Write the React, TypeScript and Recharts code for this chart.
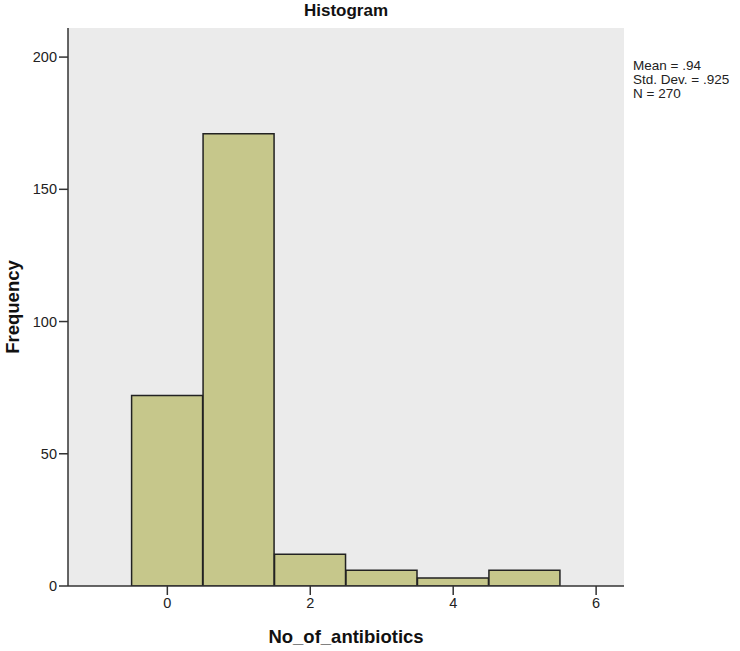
import React from 'react';
import { ComposedChart, Bar, XAxis, YAxis, CartesianGrid } from 'recharts';

const bins = [0, 1, 2, 3, 4, 5];
const counts = [72, 171, 12, 6, 3, 6];
const xTicks = [0, 2, 4, 6];
const yTicks = [0, 50, 100, 150, 200];
const statsLines = ['Mean = .94', 'Std. Dev. = .925', 'N = 270'];

const data = bins.map((b, i) => ({ bin: b, count: counts[i] }));

const FONT = '"Liberation Sans", Arial, sans-serif';

export default function App() {
  return (
    <div style={{ position: 'absolute', left: 0, top: 0, width: 740, height: 651, background: '#fff', fontFamily: FONT }}>
      <ComposedChart
        width={740}
        height={651}
        data={data}
        margin={{ top: 28, right: 116, bottom: 0, left: 0 }}
        barCategoryGap={0}
        barGap={0}
      >
        <CartesianGrid fill="#EBEBEB" horizontal={false} vertical={false} />
        <XAxis
          xAxisId="b"
          type="number"
          dataKey="bin"
          domain={[-1.39, 6.39]}
          ticks={xTicks}
          allowDataOverflow
          height={65}
          stroke="#333"
          strokeWidth={1.5}
          tickSize={9}
          tickMargin={3}
          tick={{ fill: '#222', fontSize: 14.5, fontFamily: FONT }}
          tickLine={{ stroke: '#333', strokeWidth: 1.5 }}
          label={{ value: 'No_of_antibiotics', position: 'insideBottom', offset: 8, style: { fontWeight: 'bold', fontSize: 18.5, fill: '#111', fontFamily: FONT } }}
        />
        <XAxis xAxisId="t" orientation="top" type="number" domain={[0, 1]} tick={false} tickLine={false} stroke="#333" strokeWidth={1.5} height={0} />
        <YAxis
          yAxisId="l"
          type="number"
          domain={[0, 211]}
          ticks={yTicks}
          allowDataOverflow
          width={68}
          stroke="#333"
          strokeWidth={1.5}
          tickSize={9}
          tickMargin={2}
          tick={{ fill: '#222', fontSize: 14.5, fontFamily: FONT }}
          tickLine={{ stroke: '#333', strokeWidth: 1.5 }}
          label={{ value: 'Frequency', angle: -90, position: 'insideLeft', offset: 12, style: { textAnchor: 'middle', fontWeight: 'bold', fontSize: 18.5, fill: '#111', fontFamily: FONT } }}
        />
        <YAxis yAxisId="r" orientation="right" type="number" domain={[0, 1]} tick={false} tickLine={false} stroke="#333" strokeWidth={1.5} width={0} />
        <Bar
          xAxisId="b"
          yAxisId="l"
          dataKey="count"
          fill="#C6C78B"
          stroke="#222"
          strokeWidth={1.5}
          isAnimationActive={false}
        />
        <text x={346} y={16} textAnchor="middle" fontWeight="bold" fontSize={17} fill="#111" fontFamily={FONT}>
          Histogram
        </text>
        <text x={633} y={70} fontSize={13.5} fill="#222" fontFamily={FONT}>
          {statsLines.map((s, i) => (
            <tspan key={s} x={633} dy={i === 0 ? 0 : 14}>{s}</tspan>
          ))}
        </text>
      </ComposedChart>
    </div>
  );
}
